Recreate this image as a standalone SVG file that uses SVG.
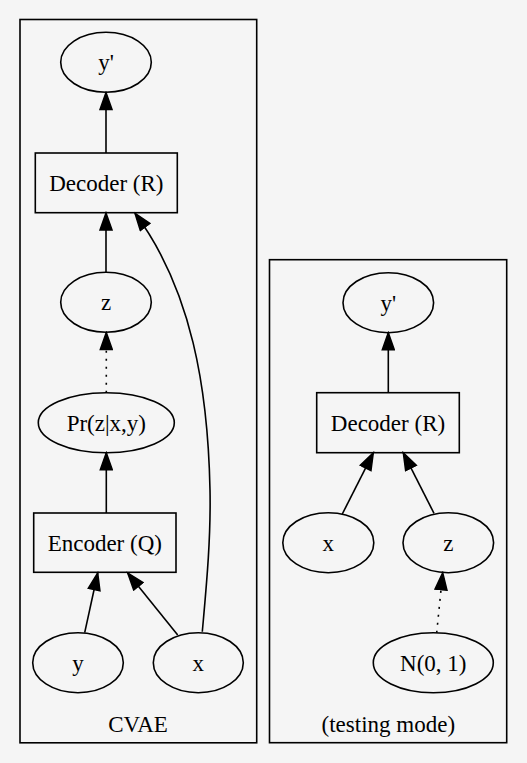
<svg xmlns="http://www.w3.org/2000/svg" width="527" height="763" viewBox="0 0 527 763">
<defs>
<marker id="arr" markerUnits="userSpaceOnUse" markerWidth="20" markerHeight="14" viewBox="0 -7 18 14" refX="17" refY="0" orient="auto">
<path d="M0,-6 L17,0 L0,6 Z" fill="#000" stroke="#000" stroke-width="1.5"/>
</marker>
</defs>
<style>
.cl{fill:#f5f5f5;stroke:#000;stroke-width:1.6}
.nd{fill:none;stroke:#000;stroke-width:1.6}
.e{fill:none;stroke:#000;stroke-width:1.6;marker-end:url(#arr)}
.d{stroke-dasharray:2,6}
text{font-family:'Liberation Serif','Times New Roman',Times,serif;font-size:23px;text-anchor:middle;fill:#000}
</style>
<rect x="0" y="0" width="527" height="763" fill="#f5f5f5"/>
<g id="cluster_cvae">
<rect class="cl" x="20" y="19.5" width="236.7" height="723.3"/>
<text x="138" y="732">CVAE</text>
</g>
<g id="cluster_test">
<rect class="cl" x="269.5" y="259.7" width="237.2" height="483"/>
<text x="388.3" y="732">(testing mode)</text>
</g>
<g id="connectors">
<path class="e" d="M106,153 L106,92.5"/>
<path class="e" d="M106,272.3 L106,213"/>
<path class="e d" d="M106.3,392.7 L106.3,332.5"/>
<path class="e" d="M106.3,513 L106.3,452.8"/>
<path class="e" d="M84.7,632.7 L97.7,573"/>
<path class="e" d="M177.7,635 L127.7,573"/>
<path class="e" d="M202.3,631.7 C206,590 211,540 210,490 C208,390 192,290 135,213.3"/>
<path class="e" d="M388.3,392.7 L388.3,332.7"/>
<path class="e" d="M342.3,514 L373.3,452.8"/>
<path class="e" d="M434,513.3 L403.3,452.8"/>
<path class="e d" d="M436.7,632.7 L442.7,572.7"/>
</g>
<g id="n_yp"><ellipse class="nd" cx="106" cy="62.3" rx="45.3" ry="30"/><text x="106" y="70.3">y'</text></g>
<g id="n_dec"><rect class="nd" x="35.3" y="153" width="142" height="59.7"/><text x="106.3" y="190.8">Decoder (R)</text></g>
<g id="n_z"><ellipse class="nd" cx="106" cy="302.3" rx="45.3" ry="30"/><text x="106" y="310.3">z</text></g>
<g id="n_pr"><ellipse class="nd" cx="106.3" cy="422.7" rx="68" ry="30"/><text x="106.3" y="430.7">Pr(z|x,y)</text></g>
<g id="n_enc"><rect class="nd" x="33.7" y="513" width="142.3" height="59.3"/><text x="104.8" y="550.7">Encoder (Q)</text></g>
<g id="n_y"><ellipse class="nd" cx="78" cy="662.7" rx="45.3" ry="30"/><text x="78" y="670.7">y</text></g>
<g id="n_x"><ellipse class="nd" cx="198.3" cy="662.7" rx="45" ry="30"/><text x="198.3" y="670.7">x</text></g>
<g id="t_yp"><ellipse class="nd" cx="388.3" cy="302.7" rx="45.3" ry="30"/><text x="388.3" y="310.7">y'</text></g>
<g id="t_dec"><rect class="nd" x="316.7" y="392.7" width="142.6" height="60"/><text x="388" y="430.7">Decoder (R)</text></g>
<g id="t_x"><ellipse class="nd" cx="328.3" cy="542.7" rx="45.5" ry="30"/><text x="328.3" y="550.7">x</text></g>
<g id="t_z"><ellipse class="nd" cx="448.3" cy="542.7" rx="45.3" ry="30"/><text x="448.3" y="550.7">z</text></g>
<g id="t_n"><ellipse class="nd" cx="433.3" cy="662.7" rx="60" ry="30"/><text x="433.3" y="670.7">N(0, 1)</text></g>
</svg>
